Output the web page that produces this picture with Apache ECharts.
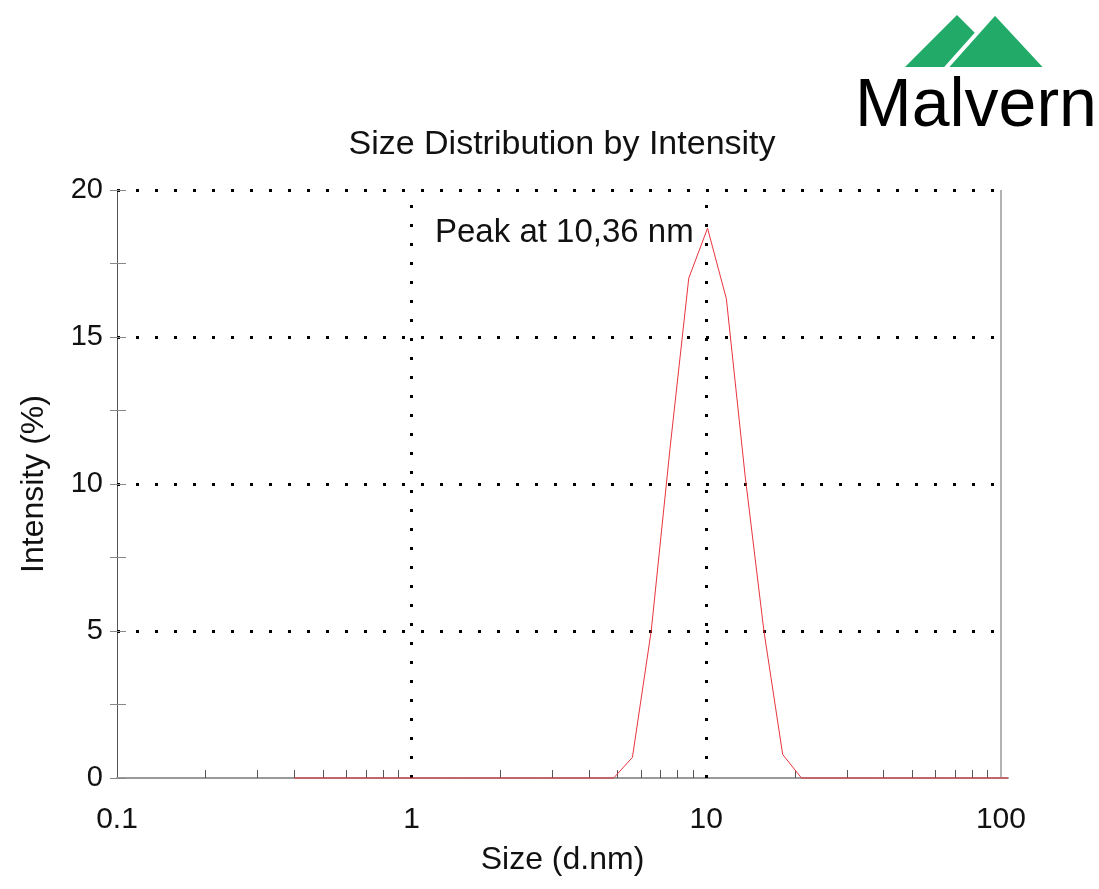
<!DOCTYPE html>
<html>
<head>
<meta charset="utf-8">
<script src="https://cdn.jsdelivr.net/npm/echarts@6/dist/echarts.min.js"></script>
<style>
html,body{margin:0;padding:0;background:#fff;}
#chart{width:1099px;height:889px;}
</style>
</head>
<body>
<div id="chart"></div>
<script>
// ---- data ----
var sizes = [0.4, 0.4632, 0.5365, 0.6213, 0.7195, 0.8332, 0.9649, 1.117, 1.294, 1.499,
  1.736, 2.010, 2.328, 2.696, 3.122, 3.615, 4.187, 4.849, 5.615, 6.503,
  7.531, 8.721, 10.10, 11.70, 13.54, 15.69, 18.17, 21.04, 24.36, 28.21,
  32.67, 37.84, 43.82, 50.75, 58.77, 68.06, 78.82, 91.28, 105.7];
var intensity = [0, 0, 0, 0, 0, 0, 0, 0, 0, 0,
  0, 0, 0, 0, 0, 0, 0, 0, 0.7, 5.0,
  11.2, 17.0, 18.7, 16.3, 10.3, 5.0, 0.8, 0, 0, 0,
  0, 0, 0, 0, 0, 0, 0, 0, 0];
var xTickLabels = [0.1, 1, 10, 100];
var xMinorTicks = [0.2,0.3,0.4,0.5,0.6,0.7,0.8,0.9, 2,3,4,5,6,7,8,9, 20,30,40,50,60,70,80,90];
var yTickValues = [0, 2.5, 5, 7.5, 10, 12.5, 15, 17.5, 20];
var yGridValues = [5, 10, 15, 20];
var xGridValues = [1, 10];
var titleText = 'Size Distribution by Intensity';
var peakText = 'Peak at 10,36 nm';
var xName = 'Size (d.nm)';
var yName = 'Intensity (%)';

var FONT = "'Liberation Sans', Arial, Helvetica, sans-serif";
var seriesData = sizes.map(function (s, i) { return [s, intensity[i]]; });

var dotted = { type: [3, 16], width: 3, color: '#000' };
var ml = [];
yGridValues.forEach(function (v) {
  ml.push([{ coord: [0.1, v], lineStyle: dotted }, { coord: [100, v] }]);
});
xGridValues.forEach(function (v) {
  ml.push([{ coord: [v, 0], lineStyle: dotted }, { coord: [v, 20] }]);
});
ml.push([{ coord: [100, 0], lineStyle: { type: 'solid', width: 1.5, color: '#9a9a9a' } }, { coord: [100, 20] }]);
// minor x ticks (inward)
xMinorTicks.forEach(function (v) {
  ml.push([{ coord: [v, 0], lineStyle: { type: 'solid', width: 1, color: '#555' } }, { coord: [v, 0.27] }]);
});
// major x ticks (crossing the axis)
xTickLabels.forEach(function (v) {
  ml.push([{ coord: [v, -0.2], lineStyle: { type: 'solid', width: 1, color: '#444' } }, { coord: [v, 0.37] }]);
});
// y ticks, inward part
yTickValues.forEach(function (v) {
  ml.push([{ coord: [0.1, v], lineStyle: { type: 'solid', width: 1, color: '#888' } }, { coord: [0.1073, v] }]);
});

var chart = echarts.init(document.getElementById('chart'), null, { renderer: 'canvas' });
chart.setOption({
  animation: false,
  backgroundColor: '#fff',
  textStyle: { fontFamily: FONT },
  title: [
    { text: titleText, left: 557, top: 123, textAlign: 'center',
      textStyle: { fontFamily: FONT, fontSize: 34, fontWeight: 'normal', color: '#111' } },
    { text: peakText, left: 430, top: 211,
      textStyle: { fontFamily: FONT, fontSize: 33, fontWeight: 'normal', color: '#111' } }
  ],
  grid: { left: 117, right: 91, top: 190, bottom: 111, containLabel: false },
  xAxis: [
    { type: 'log', logBase: 10, min: 0.1, max: 105.7, position: 'bottom',
      name: xName, nameLocation: 'middle', nameGap: 66,
      nameTextStyle: { fontFamily: FONT, fontSize: 32, color: '#111' },
      axisLine: { show: true, lineStyle: { color: '#9a9a9a', width: 2 } },
      axisTick: { show: false },
      axisLabel: { show: true, customValues: xTickLabels, margin: 27, fontSize: 30, color: '#111', fontFamily: FONT,
        formatter: function (v) { return String(v); } },
      splitLine: { show: false }, minorTick: { show: false }, minorSplitLine: { show: false } }
  ],
  yAxis: [
    { type: 'value', min: 0, max: 20, interval: 5, position: 'left',
      name: yName, nameLocation: 'middle', nameGap: 67, nameRotate: 90,
      nameTextStyle: { fontFamily: FONT, fontSize: 32, color: '#111' },
      axisLine: { show: true, lineStyle: { color: '#555', width: 1 } },
      axisTick: { show: true, length: 7, lineStyle: { color: '#888', width: 1 } },
      minorTick: { show: true, splitNumber: 2, length: 7, lineStyle: { color: '#888', width: 1 } },
      axisLabel: { show: true, margin: 14, fontSize: 29, color: '#111', fontFamily: FONT },
      splitLine: { show: false } }
  ],
  series: [
    { type: 'line', xAxisIndex: 0, yAxisIndex: 0, data: seriesData,
      showSymbol: false, symbol: 'none', smooth: false, clip: false,
      lineStyle: { color: '#e8353d', width: 1 },
      itemStyle: { color: '#e8353d' },
      z: 3,
      markLine: { silent: true, symbol: ['none', 'none'], label: { show: false },
        animation: false, z: 2, data: ml } }
  ],
  graphic: [
    { type: 'polygon', shape: { points: [[905, 67], [957, 15], [1009, 67]] },
      style: { fill: '#22ab68' }, z: 10 },
    { type: 'polygon', shape: { points: [[945, 69], [995, 13], [1047, 69]] },
      style: { fill: '#22ab68', stroke: '#fff', lineWidth: 4, lineJoin: 'miter' }, z: 11 },
    { type: 'text', style: { text: 'Malvern', x: 855, y: 107, font: '68px ' + FONT,
      fill: '#000', verticalAlign: 'middle', align: 'left' }, z: 12 }
  ]
});
</script>
</body>
</html>
